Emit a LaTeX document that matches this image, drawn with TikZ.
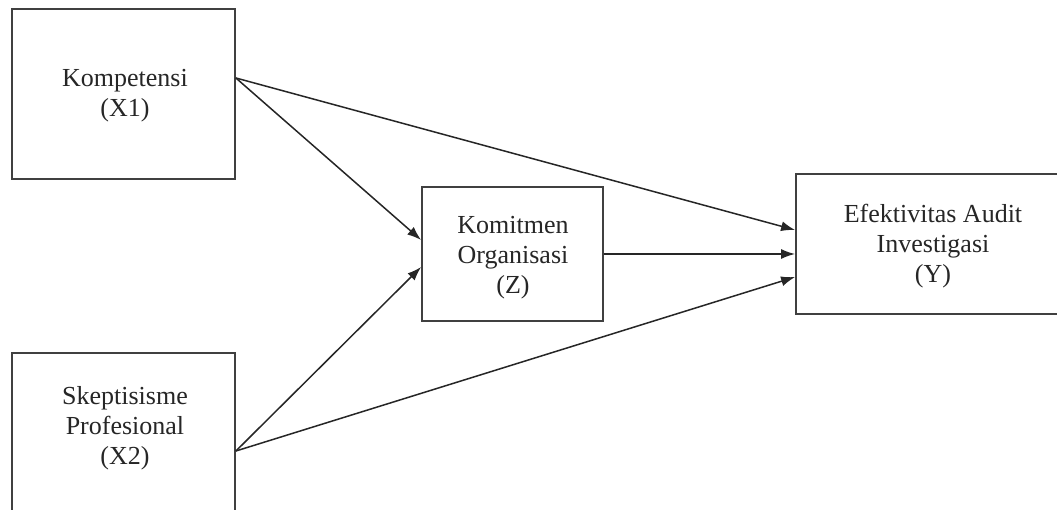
\documentclass[tikz,border=0pt]{standalone}
\usepackage{fontspec}
\setmainfont{Liberation Serif}
\usetikzlibrary{arrows.meta}
\tikzset{
  boxnode/.style={draw=black!75, line width=1.8pt, rectangle, inner sep=0pt},
  lbl/.style={align=center, font=\fontsize{26}{30}\selectfont, text=black!85, inner sep=0pt},
  conn/.style={draw=black!85, line width=1.5pt, -{Latex[length=14pt,width=10pt]}},
}
\begin{document}
\begin{tikzpicture}[x=1pt,y=-1pt]
\useasboundingbox (0,0) rectangle (1057,510);
\clip (0,0) rectangle (1057,510);
\fill[white] (0,0) rectangle (1057,510);
% boxes
\node[boxnode, minimum width=223pt, minimum height=170pt] (A) at (123.5,94) {};
\node[lbl] (At) at (125,96) {Kompetensi\\(X1)};
\node[boxnode, minimum width=223pt, minimum height=170pt] (B) at (123.5,438) {};
\node[lbl] (Bt) at (125,428) {Skeptisisme\\Profesional\\(X2)};
\node[boxnode, minimum width=181pt, minimum height=134pt] (Z) at (512.5,254) {};
\node[lbl] (Zt) at (513,258) {Komitmen\\Organisasi\\(Z)};
\node[boxnode, minimum width=274pt, minimum height=140pt] (Y) at (933,244) {};
\node[lbl] (Yt) at (933,246) {Efektivitas Audit\\Investigasi\\(Y)};
% anchor points
\coordinate (a1) at ([yshift=16pt]A.east);
\coordinate (b1) at ([yshift=-13pt]B.east);
\coordinate (z1) at ([yshift=14pt]Z.west);
\coordinate (z2) at ([yshift=-13pt]Z.west);
\coordinate (y1) at ([yshift=14pt]Y.west);
\coordinate (y3) at ([yshift=-33pt]Y.west);
% connectors
\draw[conn] (a1) -- (y1);
\draw[conn] (a1) -- (z1);
\draw[conn] (b1) -- (z2);
\draw[conn] (b1) -- (y3);
\draw[conn] (Z.east) -- (Z.east -| Y.west);
\end{tikzpicture}
\end{document}
